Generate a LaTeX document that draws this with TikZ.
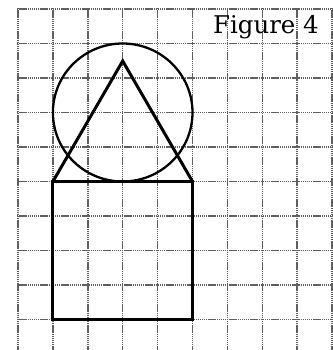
\documentclass[tikz,border=0pt]{standalone}
\usepackage{fontspec}
\setmainfont{DejaVu Serif}
\begin{document}
\begin{tikzpicture}[x=1bp,y=-1bp,
  gridline/.style={draw=gray!75!black,line width=1.5bp,dash pattern=on 1.4bp off 0.7bp},
  shapeline/.style={draw=black,line width=3bp,line join=miter},
  circline/.style={draw=black,line width=2.3bp},
  label/.style={font=\fontsize{24.5}{26}\selectfont,inner sep=0pt,anchor=base west}]
\useasboundingbox (0,0) rectangle (333,350);
% grid
\foreach \i in {0,...,9} {
  \draw[gridline] ({18+34.9*\i},8) -- ({18+34.9*\i},350);
}
\foreach \j in {0,...,9} {
  \draw[gridline] (17,{9+34.5*\j}) -- (333,{9+34.5*\j});
}
% coordinates
\coordinate (A) at (52.9,181.5);
\coordinate (B) at (192.5,181.5);
\coordinate (C) at (192.5,319.5);
\coordinate (D) at (52.9,319.5);
\coordinate (T) at (122.7,61);
\coordinate (O) at (122.7,112.5);
% circle
\draw[circline] (O) ellipse [x radius=69.8, y radius=69];
% square
\draw[shapeline] (A) -- (B) -- (C) -- (D) -- cycle;
% triangle
\draw[shapeline] (A) -- (T) -- (B);
% label
\node[label] (fig) at (213,33) {Figure 4};
\end{tikzpicture}
\end{document}
